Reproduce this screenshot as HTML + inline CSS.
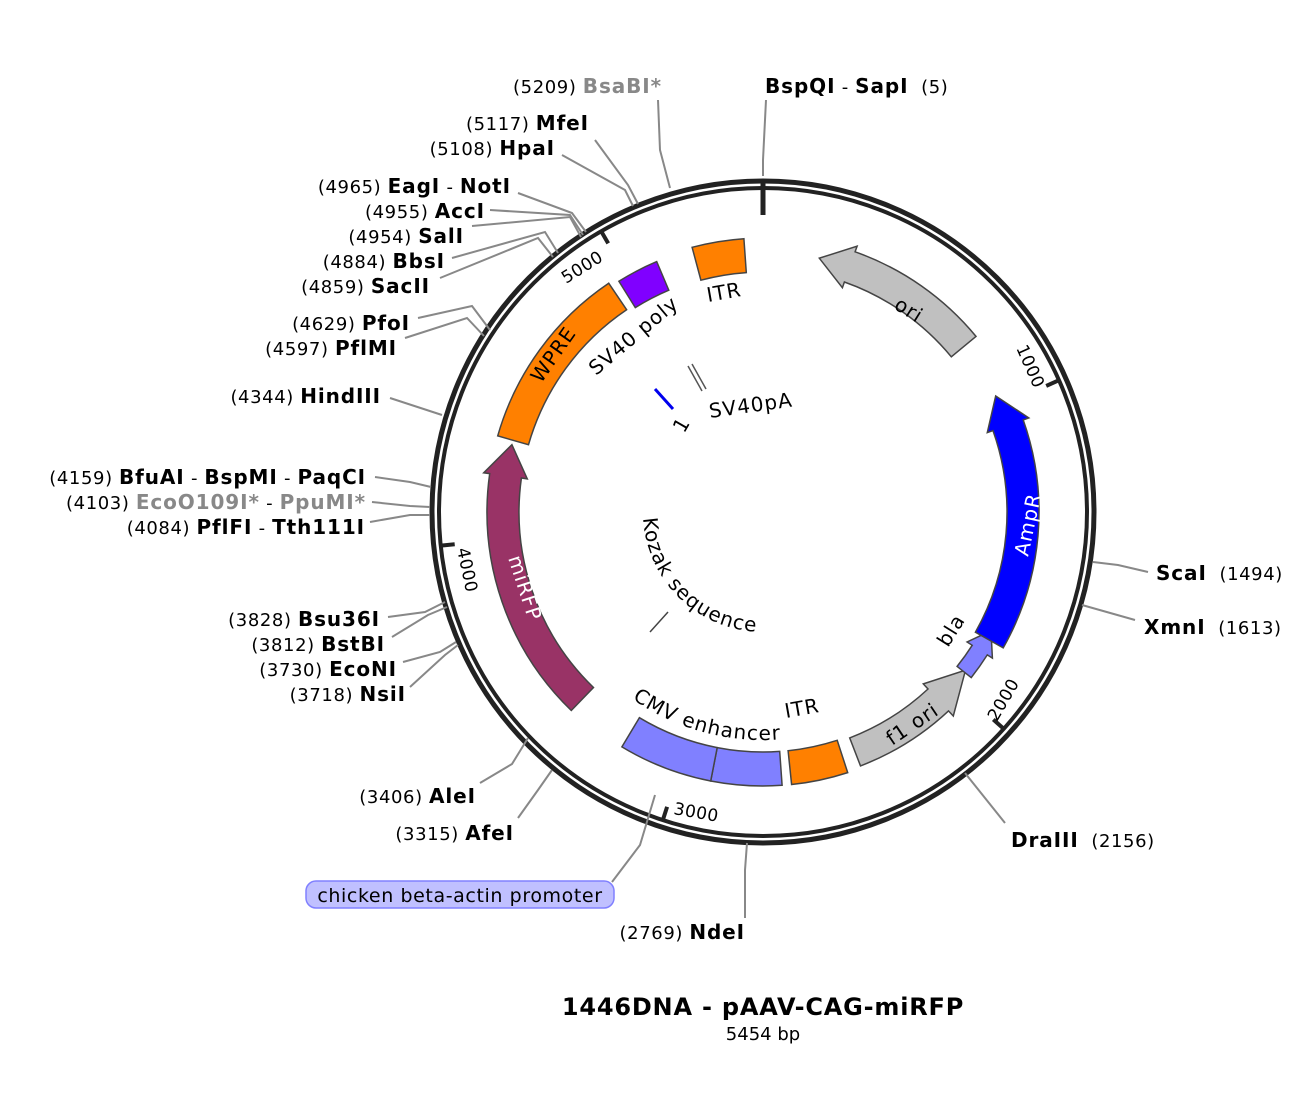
<!DOCTYPE html>
<html><head><meta charset="utf-8"><style>
html,body{margin:0;padding:0;background:#fff}
svg{display:block;font-family:"DejaVu Sans","Liberation Sans",sans-serif}
.n{font-size:18px;fill:#000;letter-spacing:0.6px}
.b{font-size:20px;font-weight:bold;fill:#000;letter-spacing:0.9px}
.g{fill:#888}
.f{font-size:20px;fill:#000;letter-spacing:1px}
.t{font-size:17px;fill:#000;letter-spacing:0.5px}
.ln{stroke:#888;stroke-width:2;fill:none}
</style></head><body>
<svg id="s" width="1316" height="1112" viewBox="0 0 1316 1112" xmlns="http://www.w3.org/2000/svg">
<g id="feat"></g>
<circle cx="763" cy="512" r="331" fill="none" stroke="#222" stroke-width="5"/>
<circle cx="763" cy="512" r="324" fill="none" stroke="#222" stroke-width="4"/>
<g id="ticks"></g>
<polyline class="ln" points="670,188 660,150 658,100"/>
<polyline class="ln" points="763,176 763,160 766,100"/>
<polyline class="ln" points="638,204 628,185 595,140"/>
<polyline class="ln" points="633,206 625,190 562,155"/>
<polyline class="ln" points="586,232 572,213 518,193"/>
<polyline class="ln" points="583,235 570,215 490,210"/>
<polyline class="ln" points="581,237 570,217 472,226"/>
<polyline class="ln" points="558,253 545,232 452,258"/>
<polyline class="ln" points="553,257 538,238 440,278"/>
<polyline class="ln" points="490,330 472,306 418,318"/>
<polyline class="ln" points="484,336 467,318 405,338"/>
<polyline class="ln" points="442,415 390,398"/>
<polyline class="ln" points="431,487 410,482 375,477"/>
<polyline class="ln" points="430,507 410,506 372,502"/>
<polyline class="ln" points="430,515 410,515 370,522"/>
<polyline class="ln" points="445,602 425,612 388,617"/>
<polyline class="ln" points="447,607 428,615 392,637"/>
<polyline class="ln" points="456,642 440,652 403,662"/>
<polyline class="ln" points="458,645 445,655 410,687"/>
<polyline class="ln" points="528,738 512,764 480,783"/>
<polyline class="ln" points="552,770 538,790 518,818"/>
<polyline class="ln" points="655,795 640,845 612,882"/>
<polyline class="ln" points="747,843 745,870 745,918"/>
<polyline class="ln" points="965,773 1005,823"/>
<polyline class="ln" points="1082,605 1135,620"/>
<polyline class="ln" points="1093,562 1118,565 1148,572"/>
<line x1="655" y1="389" x2="673" y2="409" stroke="#0000ee" stroke-width="3"/>
<line x1="688" y1="366" x2="702" y2="391" stroke="#555" stroke-width="1.5"/>
<line x1="692" y1="364" x2="706" y2="389" stroke="#555" stroke-width="1.5"/>
<line x1="650" y1="632" x2="668" y2="612" stroke="#444" stroke-width="1.5"/>
<path id="kp" d="M643.2,518.3 A120,120 0 0 0 881.2,532.8" fill="none"/>
<path id="cp" d="M632.2,698.8 A228,228 0 0 0 909.6,686.6" fill="none"/>
<text class="f"><textPath href="#kp">Kozak sequence</textPath></text>
<text class="f"><textPath href="#cp">CMV enhancer</textPath></text>
<text class="f" transform="translate(708,302) rotate(-10)">ITR</text>
<text class="f" transform="translate(893,308) rotate(32)">ori</text>
<text class="f" transform="translate(1028,557) rotate(-78)" style="fill:#fff">AmpR</text>
<text class="f" transform="translate(948,648) rotate(-58)">bla</text>
<text class="f" transform="translate(892,746) rotate(-34)">f1 ori</text>
<text class="f" transform="translate(786,718) rotate(-10)">ITR</text>
<text class="f" transform="translate(508,558) rotate(72)" style="fill:#fff">miRFP</text>
<text class="f" transform="translate(541,384) rotate(-55)">WPRE</text>
<text class="f" transform="translate(596,376) rotate(-40)">SV40 poly</text>
<text class="f" transform="translate(710,418) rotate(-8)">SV40pA</text>
<text class="f" transform="translate(684,434) rotate(-60)">1</text>
<text class="t" transform="translate(1016,348) rotate(66)">1000</text>
<text class="t" transform="translate(997,722) rotate(-60)">2000</text>
<text class="t" transform="translate(673,814) rotate(10)">3000</text>
<text class="t" transform="translate(457,549) rotate(78)">4000</text>
<text class="t" transform="translate(566,284) rotate(-32)">5000</text>
<g text-anchor="end">
<text x="662" y="93"><tspan class="n">(5209)  </tspan><tspan class="b g">BsaBI*</tspan></text>
<text x="589" y="130"><tspan class="n">(5117)  </tspan><tspan class="b">MfeI</tspan></text>
<text x="555" y="155"><tspan class="n">(5108)  </tspan><tspan class="b">HpaI</tspan></text>
<text x="511" y="193"><tspan class="n">(4965)  </tspan><tspan class="b">EagI</tspan><tspan class="n"> - </tspan><tspan class="b">NotI</tspan></text>
<text x="485" y="218"><tspan class="n">(4955)  </tspan><tspan class="b">AccI</tspan></text>
<text x="464" y="243"><tspan class="n">(4954)  </tspan><tspan class="b">SalI</tspan></text>
<text x="445" y="268"><tspan class="n">(4884)  </tspan><tspan class="b">BbsI</tspan></text>
<text x="430" y="293"><tspan class="n">(4859)  </tspan><tspan class="b">SacII</tspan></text>
<text x="410" y="330"><tspan class="n">(4629)  </tspan><tspan class="b">PfoI</tspan></text>
<text x="397" y="355"><tspan class="n">(4597)  </tspan><tspan class="b">PflMI</tspan></text>
<text x="381" y="403"><tspan class="n">(4344)  </tspan><tspan class="b">HindIII</tspan></text>
<text x="366" y="484"><tspan class="n">(4159)  </tspan><tspan class="b">BfuAI</tspan><tspan class="n"> - </tspan><tspan class="b">BspMI</tspan><tspan class="n"> - </tspan><tspan class="b">PaqCI</tspan></text>
<text x="366" y="509"><tspan class="n">(4103)  </tspan><tspan class="b g">EcoO109I*</tspan><tspan class="n"> - </tspan><tspan class="b g">PpuMI*</tspan></text>
<text x="365" y="534"><tspan class="n">(4084)  </tspan><tspan class="b">PflFI</tspan><tspan class="n"> - </tspan><tspan class="b">Tth111I</tspan></text>
<text x="380" y="626"><tspan class="n">(3828)  </tspan><tspan class="b">Bsu36I</tspan></text>
<text x="385" y="651"><tspan class="n">(3812)  </tspan><tspan class="b">BstBI</tspan></text>
<text x="397" y="676"><tspan class="n">(3730)  </tspan><tspan class="b">EcoNI</tspan></text>
<text x="406" y="701"><tspan class="n">(3718)  </tspan><tspan class="b">NsiI</tspan></text>
<text x="476" y="803"><tspan class="n">(3406)  </tspan><tspan class="b">AleI</tspan></text>
<text x="514" y="840"><tspan class="n">(3315)  </tspan><tspan class="b">AfeI</tspan></text>
<text x="745" y="939"><tspan class="n">(2769)  </tspan><tspan class="b">NdeI</tspan></text>
</g>
<text x="765" y="93" xml:space="preserve"><tspan class="b">BspQI</tspan><tspan class="n"> - </tspan><tspan class="b">SapI</tspan><tspan class="n">  (5)</tspan></text>
<text x="1156" y="580" xml:space="preserve"><tspan class="b">ScaI</tspan><tspan class="n">  (1494)</tspan></text>
<text x="1144" y="634" xml:space="preserve"><tspan class="b">XmnI</tspan><tspan class="n">  (1613)</tspan></text>
<text x="1011" y="847" xml:space="preserve"><tspan class="b">DraIII</tspan><tspan class="n">  (2156)</tspan></text>
<rect x="306" y="881" width="308" height="27" rx="10" fill="#c0c0ff" stroke="#8080ff" stroke-width="1.5"/>
<text x="460" y="902" text-anchor="middle" style="font-size:19px;letter-spacing:0.6px">chicken beta-actin promoter</text>
<text x="763" y="1015" text-anchor="middle" style="font-size:24px;font-weight:bold;letter-spacing:0.8px">1446DNA - pAAV-CAG-miRFP</text>
<text x="763" y="1040" text-anchor="middle" style="font-size:18px">5454 bp</text>
</svg>
<script>
(function(){
var cx=763,cy=512,NS="http://www.w3.org/2000/svg";
function P(r,a){a=a*Math.PI/180;return (cx+r*Math.sin(a)).toFixed(1)+","+(cy-r*Math.cos(a)).toFixed(1);}
function A(r,a1,a2){var sw=a2>a1?1:0,lg=Math.abs(a2-a1)>180?1:0;return " A"+r+","+r+" 0 "+lg+" "+sw+" "+P(r,a2);}
function box(a1,a2,r1,r2){return "M"+P(r2,a1)+A(r2,a1,a2)+" L"+P(r1,a2)+A(r1,a2,a1)+" Z";}
function arrow(t,p,r1,r2,h,w){var s=p>t?1:-1,b=p-s*h;return "M"+P(r2,t)+A(r2,t,b)+" L"+P(r2+w,b)+" L"+P((r1+r2)/2,p)+" L"+P(r1-w,b)+" L"+P(r1,b)+A(r1,b,t)+" Z";}
var g=document.getElementById("feat");
function add(d,fill){var e=document.createElementNS(NS,"path");e.setAttribute("d",d);e.setAttribute("fill",fill);e.setAttribute("stroke","#444");e.setAttribute("stroke-width","1.5");g.appendChild(e);}
add(box(-15,-4,240,274),"#ff8000");
add(box(-32,-23,241,272),"#8000ff");
add(box(-74,-34,244,276),"#ff8000");
add(arrow(-136,-75,244,276,7,6),"#993366");
add(box(176,191,240,274),"#8080ff");
add(box(191,211,240,274),"#8080ff");
add(box(162,174,240,274),"#ff8000");
add(arrow(159,128,242,272,9,7),"#c0c0c0");
add(arrow(128.5,117.5,248,266,5,6),"#8080ff");
add(arrow(119.5,63.5,244,276,7,6),"#0000ff");
add(arrow(50.5,12.5,244,276,7,6),"#c0c0c0");
var tk=document.getElementById("ticks");
function line(r1,r2,a,w){var p1=P(r1,a).split(","),p2=P(r2,a).split(",");var e=document.createElementNS(NS,"line");e.setAttribute("x1",p1[0]);e.setAttribute("y1",p1[1]);e.setAttribute("x2",p2[0]);e.setAttribute("y2",p2[1]);e.setAttribute("stroke","#222");e.setAttribute("stroke-width",w);tk.appendChild(e);}
line(297,331,0,5);
for(var k=1;k<=5;k++){line(310,325,k*1000/5454*360,4);}
})();
</script>
</body></html>
